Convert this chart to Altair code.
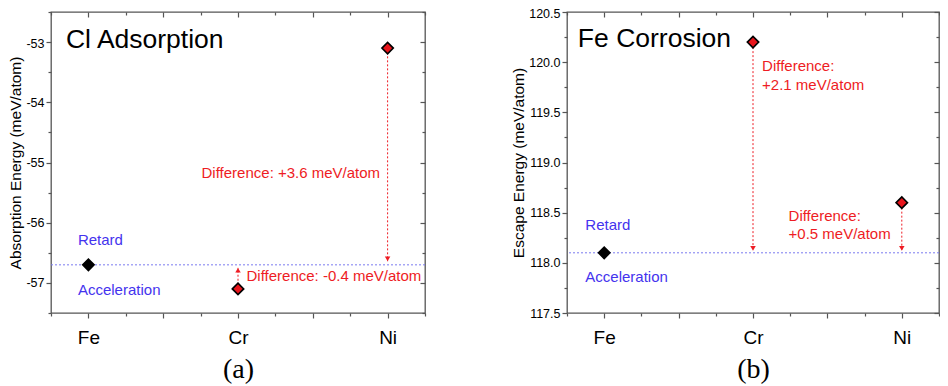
import altair as alt
import pandas as pd

# ---------------- data ----------------
elements = ["Fe", "Cr", "Ni"]
element_pos = [1, 2, 3]
marker_fill = ["#000000", "#e8141b", "#e8141b"]

cl_energy = [-56.7, -57.1, -53.1]
fe_energy = [118.1, 120.2, 118.6]

cl_reference = -56.7
fe_reference = 118.1

# difference arrows (element, start value, arrow-tip value)
cl_arrow_at = [3, 2]
cl_arrow_from = [-53.17, -57.03]
cl_arrow_to = [-56.64, -56.75]
cl_arrow_dir = ["down", "up"]
fe_arrow_at = [2, 3]
fe_arrow_from = [120.15, 118.55]
fe_arrow_to = [118.12, 118.12]
fe_arrow_dir = ["down", "down"]

# axis ticks
x_domain = [0.75, 3.25]
x_major = [1, 1.5, 2, 2.5, 3]
x_minor = [0.75, 1.25, 1.75, 2.25, 2.75, 3.25]
cl_y_domain = [-57.5, -52.5]
cl_y_major = [-57, -56, -55, -54, -53]
cl_y_minor = [-57.5, -56.5, -55.5, -54.5, -53.5, -52.5]
fe_y_domain = [117.5, 120.5]
fe_y_major = [117.5, 118.0, 118.5, 119.0, 119.5, 120.0, 120.5]
fe_y_minor = [117.75, 118.25, 118.75, 119.25, 119.75, 120.25]

# annotations
cl_heading = ["Cl Adsorption"]
cl_heading_x = [0.85]
cl_heading_y = [-52.96]
cl_side_text = ["Retard", "Acceleration"]
cl_side_x = [0.93, 0.93]
cl_side_y = [-56.28, -57.12]
cl_note_text = ["Difference: +3.6 meV/atom", "Difference: -0.4 meV/atom"]
cl_note_x = [2.95, 2.057]
cl_note_y = [-55.17, -56.89]
cl_note_align = ["right", "left"]

fe_heading = ["Fe Corrosion"]
fe_heading_x = [0.823]
fe_heading_y = [120.23]
fe_side_text = ["Retard", "Acceleration"]
fe_side_x = [0.873, 0.873]
fe_side_y = [118.38, 117.86]
fe_note_text = ["Difference:", "+2.1 meV/atom", "Difference:", "+0.5 meV/atom"]
fe_note_x = [2.061, 2.061, 2.239, 2.239]
fe_note_y = [119.96, 119.77, 118.47, 118.29]
fe_note_align = ["left", "left", "left", "left"]

# ---------------- style ----------------
RED = "#ee1c24"
BLUE = "#4433ee"
FONT = "Liberation Sans"
TICK = "#555555"
H = 301

x_label_expr = " : ".join(
    f"datum.value == {p} ? '{e}'" for p, e in zip(element_pos, elements)
) + " : ''"


def panel(energy, reference, arrow_at, arrow_from, arrow_to, arrow_dir,
          y_domain, y_major, y_minor, y_title, y_label_expr,
          heading, heading_x, heading_y, side_text, side_x, side_y,
          note_text, note_x, note_y, note_align, letter, width):
    pts = pd.DataFrame({"pos": element_pos, "energy": energy, "fill": marker_fill})
    one = pts.iloc[:1]
    xs = alt.Scale(domain=x_domain, nice=False, zero=False)
    ys = alt.Scale(domain=y_domain, nice=False, zero=False)

    def axis_layer(xaxis, yaxis):
        return alt.Chart(one).mark_point(opacity=0).encode(
            x=alt.X("pos:Q", scale=xs, axis=xaxis),
            y=alt.Y("energy:Q", scale=ys, axis=yaxis),
        )

    top_value = y_major[-1]
    main_axes = axis_layer(
        alt.Axis(orient="bottom", values=x_major, labelExpr=x_label_expr,
                 tickSize=5, labelPadding=10, labelFontSize=19, labelFlush=False,
                 labelOverlap=False, title=letter, titleFont="Liberation Serif",
                 titleFontSize=28, titleFontWeight="normal", titlePadding=8),
        alt.Axis(orient="left", values=y_major[:-1], labelExpr=y_label_expr,
                 tickSize=5, labelPadding=2, labelFontSize=12.5, labelOverlap=False,
                 labelFlush=False, title=y_title, titleFontSize=15.5,
                 titleFontWeight="normal", titlePadding=2),
    )
    top_label = axis_layer(
        None,
        alt.Axis(orient="left", values=[top_value], labelExpr=y_label_expr,
                 tickSize=5, labelPadding=2, labelFontSize=12.5, labelOverlap=False,
                 labelFlush=False, labelOffset=1.5, title=None),
    )
    minor_bl = axis_layer(
        alt.Axis(orient="bottom", values=x_minor, labels=False, title=None, tickSize=3),
        alt.Axis(orient="left", values=y_minor, labels=False, title=None, tickSize=3),
    )
    major_tr = axis_layer(
        alt.Axis(orient="top", values=x_major, labels=False, title=None, tickSize=5, offset=-5),
        alt.Axis(orient="right", values=y_major, labels=False, title=None, tickSize=5, offset=-5),
    )
    minor_tr = axis_layer(
        alt.Axis(orient="top", values=x_minor, labels=False, title=None, tickSize=3, offset=-3),
        alt.Axis(orient="right", values=y_minor, labels=False, title=None, tickSize=3, offset=-3),
    )

    ref = alt.Chart(pd.DataFrame({"ref": [reference]})).mark_rule(
        color="#7b7bf0", strokeDash=[2, 2], strokeWidth=1
    ).encode(y=alt.Y("ref:Q", scale=ys, axis=None))

    arr = pd.DataFrame({"pos": arrow_at, "y0": arrow_from, "y1": arrow_to, "dir": arrow_dir})
    arrow_line = alt.Chart(arr).mark_rule(color=RED, strokeDash=[2, 2], strokeWidth=1).encode(
        x=alt.X("pos:Q", scale=xs, axis=None),
        y=alt.Y("y0:Q", scale=ys, axis=None),
        y2="y1:Q",
    )
    head_down = alt.Chart(arr).transform_filter("datum.dir == 'down'").mark_point(
        shape="triangle-down", filled=True, color=RED, size=30, opacity=1, yOffset=-2.4
    ).encode(x=alt.X("pos:Q", scale=xs, axis=None), y=alt.Y("y1:Q", scale=ys, axis=None))
    head_up = alt.Chart(arr).transform_filter("datum.dir == 'up'").mark_point(
        shape="triangle-up", filled=True, color=RED, size=30, opacity=1, yOffset=2.4
    ).encode(x=alt.X("pos:Q", scale=xs, axis=None), y=alt.Y("y1:Q", scale=ys, axis=None))

    markers = alt.Chart(pts).mark_point(
        shape="diamond", filled=True, size=130, stroke="black", strokeWidth=1.6, opacity=1
    ).encode(
        x=alt.X("pos:Q", scale=xs, axis=None),
        y=alt.Y("energy:Q", scale=ys, axis=None),
        fill=alt.Fill("fill:N", scale=None, legend=None),
    )

    head_txt = alt.Chart(pd.DataFrame({"t": heading, "x": heading_x, "y": heading_y})).mark_text(
        align="left", baseline="middle", font=FONT, fontSize=26.5, color="black"
    ).encode(x=alt.X("x:Q", scale=xs, axis=None), y=alt.Y("y:Q", scale=ys, axis=None), text="t:N")

    side_txt = alt.Chart(pd.DataFrame({"t": side_text, "x": side_x, "y": side_y})).mark_text(
        align="left", baseline="middle", font=FONT, fontSize=15, color=BLUE
    ).encode(x=alt.X("x:Q", scale=xs, axis=None), y=alt.Y("y:Q", scale=ys, axis=None), text="t:N")

    notes = pd.DataFrame({"t": note_text, "x": note_x, "y": note_y, "a": note_align})
    note_layers = []
    for a in ["left", "right"]:
        note_layers.append(
            alt.Chart(notes).transform_filter(f"datum.a == '{a}'").mark_text(
                align=a, baseline="middle", font=FONT, fontSize=15, color=RED
            ).encode(x=alt.X("x:Q", scale=xs, axis=None), y=alt.Y("y:Q", scale=ys, axis=None), text="t:N")
        )

    return alt.layer(
        main_axes, top_label, minor_bl, major_tr, minor_tr, ref, arrow_line, head_down, head_up,
        markers, head_txt, side_txt, *note_layers
    ).resolve_axis(x="independent", y="independent").properties(width=width, height=H)


left = panel(cl_energy, cl_reference, cl_arrow_at, cl_arrow_from, cl_arrow_to, cl_arrow_dir,
             cl_y_domain, cl_y_major, cl_y_minor, "Absorption Energy (meV/atom)",
             "'' + datum.value",
             cl_heading, cl_heading_x, cl_heading_y, cl_side_text, cl_side_x, cl_side_y,
             cl_note_text, cl_note_x, cl_note_y, cl_note_align, "(a)", 374)

right = panel(fe_energy, fe_reference, fe_arrow_at, fe_arrow_from, fe_arrow_to, fe_arrow_dir,
              fe_y_domain, fe_y_major, fe_y_minor, "Escape Energy (meV/atom)",
              "format(datum.value, '.1f')",
              fe_heading, fe_heading_x, fe_heading_y, fe_side_text, fe_side_x, fe_side_y,
              fe_note_text, fe_note_x, fe_note_y, fe_note_align, "(b)", 372)

chart = alt.hconcat(left, right, spacing=142, bounds="flush").properties(
    autosize=alt.AutoSizeParams(type="none"),
    padding={"left": 43, "top": 4, "right": 889, "bottom": 362},
).configure_view(
    stroke="#555555", strokeWidth=1.3
).configure_axis(
    grid=False, domain=False, tickColor=TICK, tickWidth=1.2,
    labelFont=FONT, titleFont=FONT, labelColor="black", titleColor="black"
)

chart.save("out.html", embed_options={"renderer": "svg", "actions": False})
